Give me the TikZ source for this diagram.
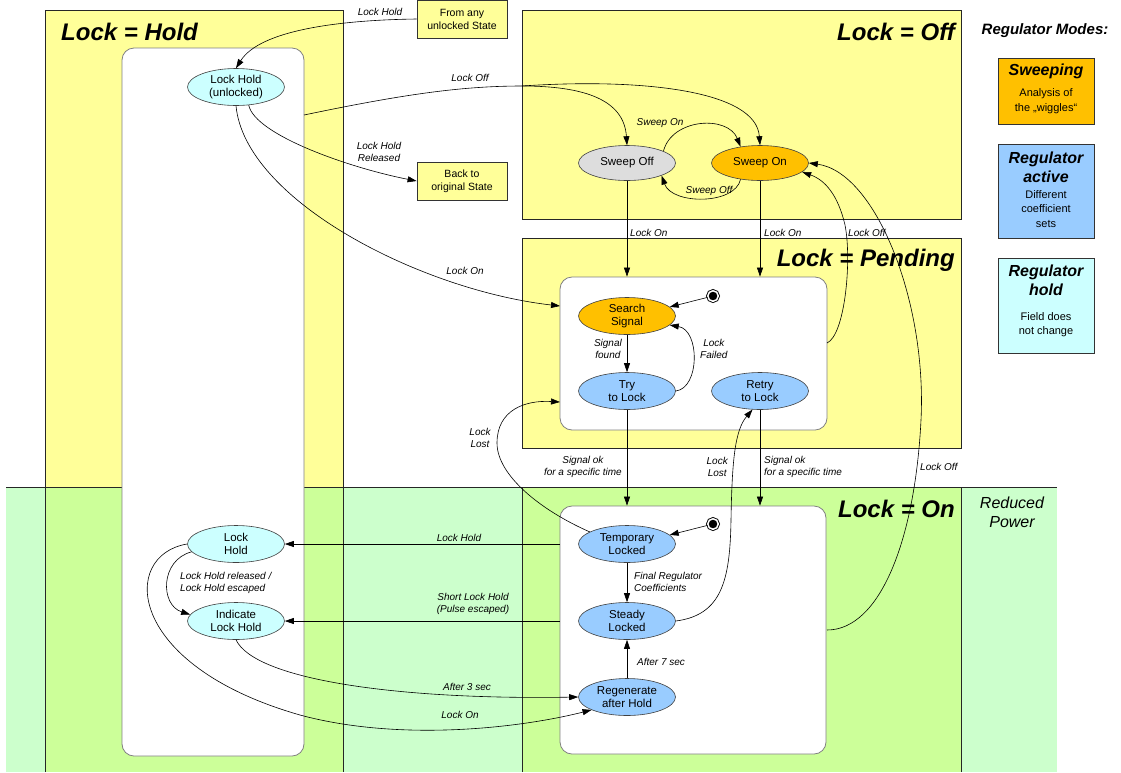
\documentclass[tikz,border=0pt]{standalone}
\usepackage{fontspec}
\setmainfont{Liberation Sans}
\usetikzlibrary{arrows.meta,shapes.geometric}
\definecolor{yel}{HTML}{FFFF99}
\definecolor{grn}{HTML}{CCFF99}
\definecolor{lgrn}{HTML}{CCFFCC}
\definecolor{org}{HTML}{FFC000}
\definecolor{blu}{HTML}{99CCFF}
\definecolor{cyn}{HTML}{CCFFFF}
\definecolor{gry}{HTML}{DDDDDD}
\begin{document}
\begin{tikzpicture}[x=1pt,y=-1pt,
 st/.style={ellipse, draw=black!75, line width=0.6pt, minimum width=97pt, minimum height=37pt, inner sep=0pt, align=center, font=\fontsize{11.5}{13.5}\selectfont},
 sbox/.style={rectangle, draw=black!80, line width=0.8pt, fill=yel, minimum width=90pt, minimum height=38pt, align=center, font=\fontsize{10.5}{13}\selectfont, inner sep=0pt},
 inbox/.style={rectangle, rounded corners=12pt, draw=black!50, line width=0.8pt, fill=white, inner sep=0pt},
 region/.style={draw=black!85, line width=0.9pt},
 title/.style={font=\fontsize{24}{28}\selectfont\bfseries\itshape, inner sep=0pt},
 lab/.style={font=\fontsize{10}{12}\selectfont\itshape, inner sep=0pt, align=center},
 arr/.style={draw=black, line width=0.6pt, -{Triangle[length=9pt,width=6pt]}},
 ln/.style={draw=black, line width=0.6pt},
 initst/.style={circle, fill=black, draw=black, double=white, double distance=1.5pt, line width=0.9pt, minimum size=10.5pt, inner sep=0pt},
 leg/.style={rectangle, draw=black!80, line width=0.9pt, minimum width=96pt, inner sep=0pt},
 legh/.style={font=\fontsize{16}{19}\selectfont\bfseries\itshape, align=center, inner sep=0pt},
 legt/.style={font=\fontsize{11}{14.5}\selectfont, align=center, inner sep=0pt}
]
\useasboundingbox (0,0) rectangle (1121,772);
% background bands and regions
\fill[lgrn] (6,487) rectangle (1057,772);
\fill[yel] (45,10) rectangle (343,487);
\fill[grn] (45,487) rectangle (343,772);
\draw[region] (45,772) -- (45,10) -- (343,10) -- (343,772);
\filldraw[fill=yel, region] (522,10) rectangle (961,219);
\filldraw[fill=yel, region] (522,238) rectangle (961,448);
\fill[grn] (522,487) rectangle (961,772);
\draw[region] (522,772) -- (522,487);
\draw[region] (961,487) -- (961,772);
\draw[region] (6,487) -- (1057,487);

% inner boxes
\node[inbox, minimum width=182pt, minimum height=708pt] (holdin) at (213,402) {};
\node[inbox, minimum width=267pt, minimum height=153pt] (penin) at (693.5,353.5) {};
\node[inbox, minimum width=266pt, minimum height=248pt] (onin) at (693,630) {};

% titles
\node[title, anchor=west] (thold) at (61,32) {Lock = Hold};
\node[title, anchor=east] (toff) at (955,32) {Lock = Off};
\node[title, anchor=east] (tpen) at (955,260) {Lock = Pending};
\node[title, anchor=east] (ton) at (955,509) {Lock = On};
\node[font=\fontsize{16}{19}\selectfont\itshape, align=center, inner sep=0pt] (tred) at (1012,512) {Reduced\\Power};
\node[font=\fontsize{15}{18}\selectfont\bfseries\itshape, inner sep=0pt] (tmodes) at (1045,31) {Regulator Modes:};

% legend
\node[leg, fill=org, minimum height=66pt] (lsw) at (1046,91) {};
\node[legh] (lswh) at (1046,71) {Sweeping};
\node[legt] (lswt) at (1046,101) {Analysis of\\the „wiggles“};
\node[leg, fill=blu, minimum height=94pt] (lac) at (1046,191) {};
\node[legh] (lach) at (1046,167) {Regulator\\active};
\node[legt] (lact) at (1046,209) {Different\\coefficient\\sets};
\node[leg, fill=cyn, minimum height=95pt] (lho) at (1046,305.5) {};
\node[legh] (lhoh) at (1046,280) {Regulator\\hold};
\node[legt] (lhot) at (1046,324.5) {Field does\\not change};

% boxes
\node[sbox] (from) at (462,19) {From any\\unlocked State};
\node[sbox] (back) at (462,181) {Back to\\original State};

% states
\node[st, fill=cyn] (lhu) at (236,87) {Lock Hold\\(unlocked)};
\node[st, fill=gry, minimum height=35pt] (swoff) at (627,163) {Sweep Off};
\node[st, fill=org, minimum height=35pt] (swon) at (760,163) {Sweep On};
\node[st, fill=org] (srch) at (627,316) {Search\\Signal};
\node[st, fill=blu] (try) at (627,391) {Try\\to Lock};
\node[st, fill=blu] (retry) at (760,391) {Retry\\to Lock};
\node[st, fill=blu] (tmp) at (627,544) {Temporary\\Locked};
\node[st, fill=blu] (std) at (627,621) {Steady\\Locked};
\node[st, fill=blu] (regen) at (627,697) {Regenerate\\after Hold};
\node[st, fill=cyn] (lh) at (236,544) {Lock\\Hold};
\node[st, fill=cyn] (ilh) at (236,621) {Indicate\\Lock Hold};
\node[initst] (init1) at (713,296) {};
\node[initst] (init2) at (713,524) {};

% free-end coordinates on region borders
\coordinate (loffs) at (304,115);
\coordinate (loffm) at (522,86);
\coordinate (penLockOn) at (560,306);
\coordinate (penLL) at (560,402);
\coordinate (penLoff) at (827,343);
\coordinate (onLoff) at (827,630);

% connectors
\draw[arr] (from.west) .. controls (340,20) and (260,30) .. (lhu.north);
\node[lab] (l1) at (380,12) {Lock Hold};

\draw[ln] (loffs) .. controls (400,95) and (460,86) .. (loffm);
\draw[arr] (loffm) .. controls (585,86) and (624,100) .. (swoff.north);
\draw[arr] (loffm) .. controls (640,78) and (756,90) .. (swon.north);
\node[lab] (l2) at (470,78) {Lock Off};

\draw[arr] (lhu.-55) .. controls (255,135) and (350,168) .. (back.west);
\node[lab] (l3) at (379,152) {Lock Hold\\Released};

\draw[arr] (lhu.south) .. controls (245,200) and (420,290) .. (penLockOn);
\node[lab] (l4) at (465,271) {Lock On};

\draw[arr] (swoff.18) .. controls (672,118) and (728,115) .. (swon.140);
\node[lab] (l5) at (660,123) {Sweep On};
\draw[arr] (swon.220) .. controls (735,205) and (672,205) .. (swoff.-20);
\node[lab] (l6) at (709,191) {Sweep Off};

\draw[arr] (swoff.south) -- (swoff.south |- penin.north);
\node[lab, anchor=west] (l7) at (630,233) {Lock On};
\draw[arr] (swon.south) -- (swon.south |- penin.north);
\node[lab, anchor=west] (l8) at (764,233) {Lock On};

\draw[arr] (penLoff) .. controls (845,335) and (852,260) .. (845,225) .. controls (838,195) and (825,180) .. (swon.-12);
\node[lab, anchor=west] (l9) at (848,233) {Lock Off};

\draw[arr] (onLoff) .. controls (880,630) and (915,540) .. (921,420) .. controls (927,300) and (875,172) .. (swon.east);
\node[lab, anchor=west] (l10) at (920,467) {Lock Off};

\draw[arr] (init1) -- (srch.12);
\draw[arr] (srch) -- (try);
\node[lab, anchor=east] (l11) at (622,349) {Signal\\found};
\draw[arr] (try.east) .. controls (700,388) and (700,330) .. (srch.-12);
\node[lab, anchor=west] (l12) at (700,349) {Lock\\Failed};

\draw[arr] (try) -- (try |- onin.north);
\node[lab, anchor=east] (l13) at (622,467) {Signal ok\\for a specific time};
\draw[arr] (retry) -- (retry |- onin.north);
\node[lab, anchor=west, align=left] (l14) at (764,467) {Signal ok\\for a specific time};

\draw[arr] (std.east) .. controls (722,615) and (730,580) .. (731,520) .. controls (732,460) and (735,430) .. (retry.-112);
\node[lab, anchor=east] (l15) at (728,467) {Lock\\Lost};

\draw[arr] (tmp.162) .. controls (540,510) and (497,475) .. (497,443) .. controls (497,410) and (525,400) .. (penLL);
\node[lab] (l16) at (480,438) {Lock\\Lost};

\draw[arr] (init2) -- (tmp.12);
\draw[arr] (tmp) -- (std);
\node[lab, anchor=west, align=left] (l17) at (634,582) {Final Regulator\\Coefficients};
\draw[arr] (regen) -- (std);
\node[lab, anchor=west] (l18) at (637,662) {After 7 sec};

\draw[arr] (onin.west |- tmp) -- (lh.east);
\node[lab] (l19) at (459,538) {Lock Hold};
\draw[arr] (onin.west |- std) -- (ilh.east);
\node[lab] (l20) at (473,604) {Short Lock Hold\\(Pulse escaped)};

\draw[arr] (lh.190) .. controls (160,560) and (160,605) .. (ilh.172);
\node[lab, anchor=west, align=left] (l21) at (180,583) {Lock Hold released /\\Lock Hold escaped};

\draw[arr] (ilh.south) .. controls (255,680) and (400,700) .. (regen.west);
\node[lab] (l22) at (467,687) {After 3 sec};

\draw[arr] (lh.west) .. controls (120,555) and (125,665) .. (300,715) .. controls (400,742) and (520,728) .. (regen.-160);
\node[lab] (l23) at (460,715) {Lock On};
\end{tikzpicture}
\end{document}
